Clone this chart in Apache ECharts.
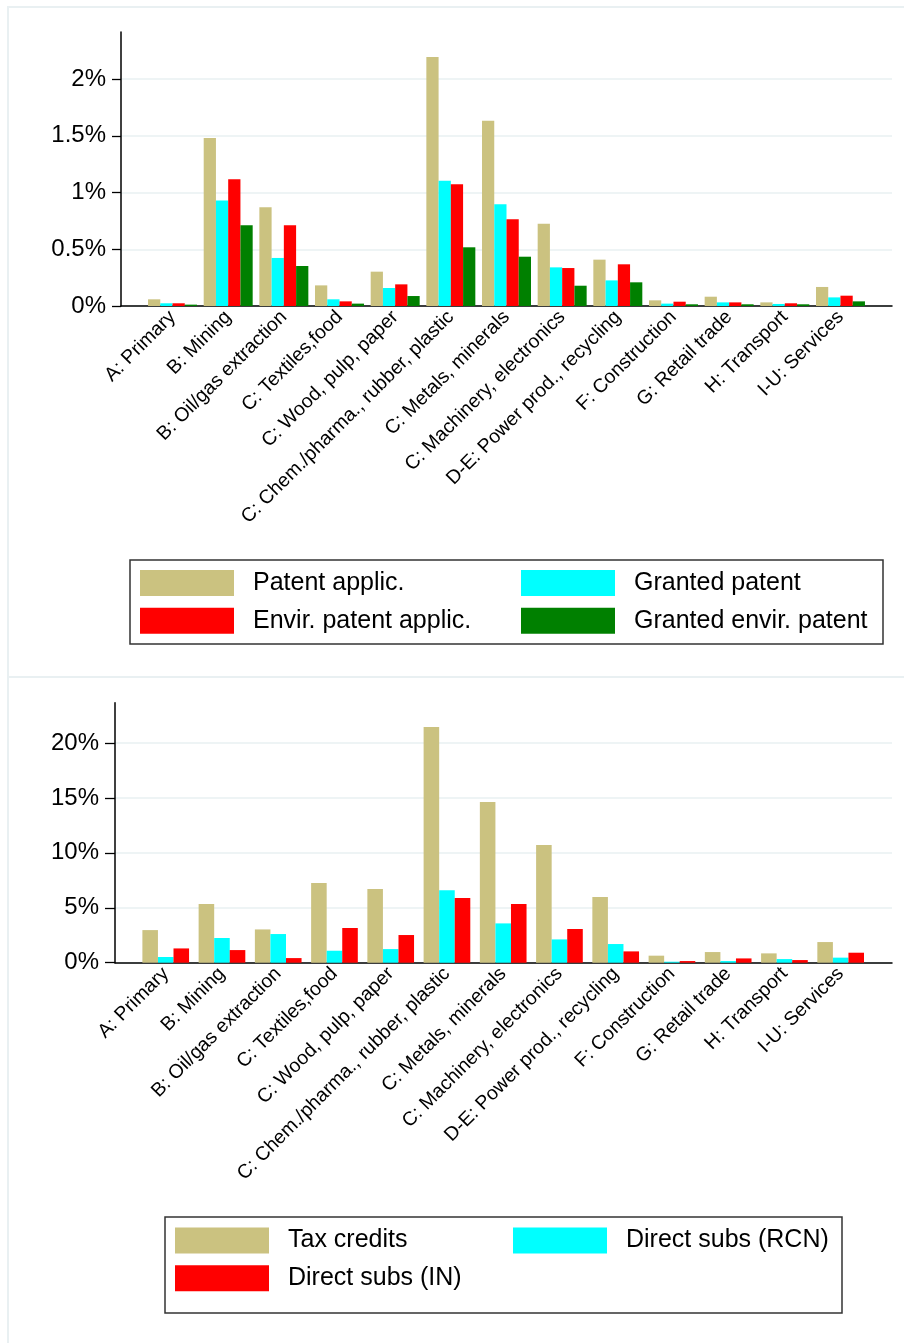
<!DOCTYPE html>
<html>
<head>
<meta charset="utf-8">
<script src="https://cdn.jsdelivr.net/npm/echarts@6/dist/echarts.min.js"></script>
<style>
html,body{margin:0;padding:0;background:#fff;}
#chart{width:904px;height:1343px;}
</style>
</head>
<body>
<div id="chart"></div>
<script>
const categories = ['A: Primary','B: Mining','B: Oil/gas extraction','C: Textiles,food','C: Wood, pulp, paper','C: Chem./pharma., rubber, plastic','C: Metals, minerals','C: Machinery, electronics','D-E: Power prod., recycling','F: Construction','G: Retail trade','H: Transport','I-U: Services'];

// Top panel (percent)
const patentApplic = [0.059,1.482,0.871,0.182,0.303,2.197,1.635,0.726,0.409,0.050,0.082,0.032,0.168];
const grantedPatent = [0.024,0.932,0.424,0.059,0.159,1.106,0.897,0.341,0.226,0.021,0.032,0.018,0.076];
const envirApplic = [0.024,1.118,0.712,0.041,0.191,1.074,0.765,0.335,0.368,0.038,0.032,0.024,0.091];
const grantedEnvir = [0.012,0.712,0.353,0.021,0.088,0.518,0.435,0.179,0.209,0.015,0.015,0.015,0.041];
const topTicks = [0, 0.5, 1, 1.5, 2];

// Bottom panel (percent)
const taxCredits = [2.97,5.34,3.03,7.25,6.71,21.46,14.63,10.71,5.98,0.64,0.97,0.85,1.88];
const directRCN = [0.52,2.25,2.61,1.09,1.24,6.59,3.58,2.12,1.70,0.09,0.15,0.33,0.46];
const directIN = [1.30,1.15,0.42,3.16,2.52,5.89,5.34,3.07,1.03,0.15,0.39,0.24,0.91];
const bottomTicks = [0, 5, 10, 15, 20];

const TAN = '#cbc280', CYAN = '#00ffff', RED = '#ff0000', GREEN = '#008000';
const FONT = '"Liberation Sans", Arial, sans-serif';
const GRIDC = '#e9f0f2';

const chart = echarts.init(document.getElementById('chart'), null, {renderer: 'canvas'});

function labelAxisY(gridIndex, max, interval, tickLen, margin) {
  return {
    type: 'value', gridIndex: gridIndex, min: 0, max: max, interval: interval,
    axisLine: {show: false},
    axisTick: {show: true, length: tickLen, lineStyle: {color: '#000', width: 1.3}},
    axisLabel: {show: true, margin: margin, color: '#000', fontSize: 24, fontFamily: FONT,
      formatter: v => v + '%'},
    splitLine: {show: true, lineStyle: {color: GRIDC, width: 1.5}}
  };
}
function lineAxisX(gridIndex) {
  return {
    type: 'value', gridIndex: gridIndex, min: 0, max: 1,
    axisLine: {show: true, onZero: false, lineStyle: {color: '#000', width: 1.5}},
    axisTick: {show: false}, axisLabel: {show: false}, splitLine: {show: false}
  };
}
function catAxisX(gridIndex) {
  return {
    type: 'category', gridIndex: gridIndex, data: categories,
    axisLine: {show: false}, axisTick: {show: false},
    axisLabel: {show: true, interval: 0, rotate: 45, margin: 8, color: '#000', fontSize: 19.5, fontFamily: FONT}
  };
}
function barAxisY(gridIndex, max, offset) {
  return {
    type: 'value', gridIndex: gridIndex, min: 0, max: max, offset: offset,
    axisLine: {show: true, lineStyle: {color: '#000', width: 1.5}},
    axisTick: {show: false}, axisLabel: {show: false}, splitLine: {show: false}
  };
}
function bar(name, data, color, xi, yi, catGap) {
  return {
    type: 'bar', name: name, data: data, xAxisIndex: xi, yAxisIndex: yi,
    barGap: '0%', barCategoryGap: catGap,
    itemStyle: {color: color}, emphasis: {disabled: true}, animation: false
  };
}
const legendText = {color: '#000', fontSize: 25, fontFamily: FONT, padding: [0, 0, 0, 14]};
function legend(data, left, top) {
  return {
    data: data, orient: 'vertical', left: left, top: top, padding: 0,
    itemWidth: 94, itemHeight: 26, itemGap: 11.7, icon: 'rect',
    textStyle: legendText, selectedMode: false
  };
}

const option = {
  backgroundColor: '#fff',
  animation: false,
  grid: [
    {left: 121, top: 79, width: 771, height: 227},          // 0 top labels/gridlines
    {left: 144.7, top: 32, width: 723.6, height: 274},      // 1 top bars
    {left: 115, top: 743, width: 777, height: 219.7},       // 2 bottom labels/gridlines
    {left: 137.6, top: 702.7, width: 731.2, height: 260}    // 3 bottom bars
  ],
  xAxis: [lineAxisX(0), catAxisX(1), lineAxisX(2), catAxisX(3)],
  yAxis: [
    labelAxisY(0, topTicks[topTicks.length - 1], 0.5, 9, 15),
    barAxisY(1, 2.418, 23.7),
    labelAxisY(2, bottomTicks[bottomTicks.length - 1], 5, 10, 16),
    barAxisY(3, 23.68, 22.6)
  ],
  legend: [
    legend(['Patent applic.', 'Envir. patent applic.'], 140, 570),
    legend(['Granted patent', 'Granted envir. patent'], 521, 570),
    legend(['Tax credits', 'Direct subs (IN)'], 175, 1227.5),
    legend(['Direct subs (RCN)'], 513, 1227.5)
  ],
  series: [
    bar('Patent applic.', patentApplic, TAN, 1, 1, '12%'),
    bar('Granted patent', grantedPatent, CYAN, 1, 1, '12%'),
    bar('Envir. patent applic.', envirApplic, RED, 1, 1, '12%'),
    bar('Granted envir. patent', grantedEnvir, GREEN, 1, 1, '12%'),
    bar('Tax credits', taxCredits, TAN, 3, 3, '17%'),
    bar('Direct subs (RCN)', directRCN, CYAN, 3, 3, '17%'),
    bar('Direct subs (IN)', directIN, RED, 3, 3, '17%')
  ],
  graphic: [
    {type: 'rect', z: -10, shape: {x: 8, y: 7, width: 920, height: 670}, style: {fill: 'none', stroke: GRIDC, lineWidth: 2}},
    {type: 'rect', z: -10, shape: {x: 8, y: 677, width: 920, height: 700}, style: {fill: 'none', stroke: GRIDC, lineWidth: 2}},
    {type: 'rect', z: -5, shape: {x: 130, y: 560, width: 753, height: 84}, style: {fill: '#fff', stroke: '#333', lineWidth: 1.5}},
    {type: 'rect', z: -5, shape: {x: 165, y: 1217, width: 677, height: 96}, style: {fill: '#fff', stroke: '#333', lineWidth: 1.5}}
  ]
};
chart.setOption(option);
</script>
</body>
</html>
